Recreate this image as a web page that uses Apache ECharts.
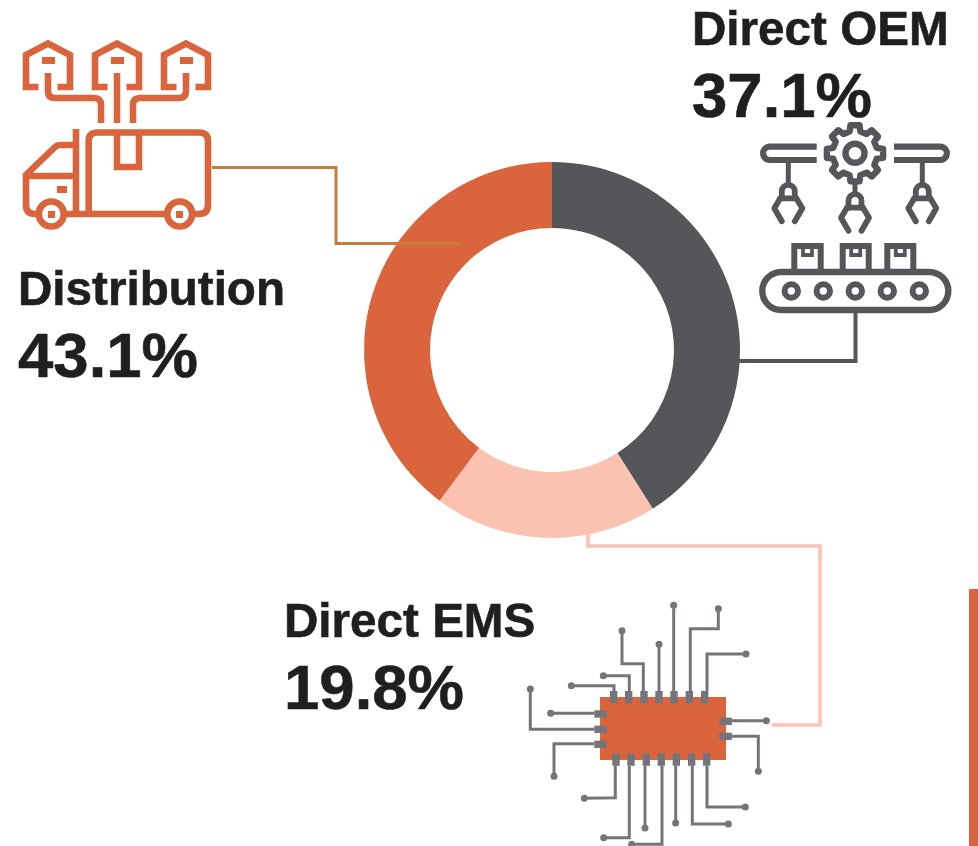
<!DOCTYPE html>
<html><head><meta charset="utf-8">
<style>html,body{margin:0;padding:0;background:#fff}#c{width:978px;height:846px}</style>
<script src="https://cdn.jsdelivr.net/npm/echarts@6/dist/echarts.min.js"></script>
</head><body><div id="c"></div>
<script>
// Segment names and the percentages printed on the chart
const categories = ['Direct OEM', 'Direct EMS', 'Distribution'];
const printedPercent = [37.1, 19.8, 43.1];
// Ring sweep as actually drawn in the picture (it differs from the printed labels)
const drawnShare = [41.0, 19.2, 39.8];
const colors = ['#54565a', '#fbc1b1', '#da643c'];

const ORANGE = '#da643c', DARK = '#54565a', GREY = '#74757a', PALE = '#fbc1b1', LINK = '#c97b3c', INK = '#1f1f1f';

function stroke(d, color, w, extra) {
  return {type: 'path', shape: {pathData: d}, silent: true,
    style: Object.assign({fill: 'none', stroke: color, lineWidth: w, lineJoin: 'miter', lineCap: 'butt'}, extra || {})};
}
function box(x, y, w, h, color) {
  return {type: 'rect', shape: {x, y, width: w, height: h}, silent: true, style: {fill: color}};
}
function ring(cx, cy, r, color, w) {
  return {type: 'circle', shape: {cx, cy, r}, silent: true, style: {fill: '#fff', stroke: color, lineWidth: w}};
}
function dot(cx, cy, r, color) {
  return {type: 'circle', shape: {cx, cy, r}, silent: true, style: {fill: color}};
}

function truckIcon() {
  const out = [], W = 6.6;
  [0, 69, 138].forEach(dx => {
    out.push(stroke(`M${38.5 + dx} 87 H${26 + dx} V55 L${48 + dx} 43.5 L${70 + dx} 55 V87 H${57.5 + dx}`, ORANGE, W));
    out.push(box(42 + dx, 57, 13, 7, ORANGE));
  });
  out.push(stroke('M48 73 V91 Q48 98 55 98 H94 Q101 98 101 105 V123', ORANGE, W));
  out.push(stroke('M117 73 V123', ORANGE, W));
  out.push(stroke('M186 73 V91 Q186 98 179 98 H140 Q133 98 133 105 V123', ORANGE, W));
  out.push(stroke('M88.7 214 V141 Q88.7 132.5 98 132.5 H199 Q208 132.5 208 141 V205 Q208 214 199 214 H190', ORANGE, W));
  out.push(stroke('M117 132 V167 H139 V132', ORANGE, W));
  out.push(stroke('M76 129 V214', ORANGE, W));
  out.push(stroke('M76 145 H60 Q57 145 55 147 L26 175 V205 Q26 214 35 214 H170', ORANGE, W));
  out.push(stroke('M26 176 H76', ORANGE, W));
  out.push(box(57, 186, 10, 7, ORANGE));
  out.push(ring(51.3, 214, 12.5, ORANGE, W));
  out.push(ring(179.7, 214, 12.5, ORANGE, W));
  out.push(box(48, 211, 7, 7, ORANGE));
  out.push(box(176, 211, 7, 7, ORANGE));
  return out;
}

function claw(cx, ty) {
  const o = {lineCap: 'round', lineJoin: 'round'};
  return [
    stroke(`M${cx - 6.5} ${ty + 15} V${ty + 8} A6.5 6.5 0 0 1 ${cx + 6.5} ${ty + 8} V${ty + 15}`, DARK, 5.8, o),
    stroke(`M${cx - 8} ${ty + 15} H${cx + 8}`, DARK, 5.8, o),
    stroke(`M${cx - 8} ${ty + 15} L${cx - 14} ${ty + 25} L${cx - 6.5} ${ty + 38}`, DARK, 5.8, o),
    stroke(`M${cx + 8} ${ty + 15} L${cx + 14} ${ty + 25} L${cx + 6.5} ${ty + 38}`, DARK, 5.8, o)
  ];
}
function gearPath(cx, cy) {
  let d = '';
  for (let k = 0; k < 8; k++) {
    const a = k * 45 - 90;
    [[-14, 22.5], [-9, 28.5], [9, 28.5], [14, 22.5]].forEach(([da, r], i) => {
      const t = (a + da) * Math.PI / 180;
      d += (k === 0 && i === 0 ? 'M' : 'L') + (cx + r * Math.cos(t)).toFixed(1) + ' ' + (cy + r * Math.sin(t)).toFixed(1) + ' ';
    });
  }
  return d + 'Z';
}
function robotIcon() {
  const out = [];
  out.push(stroke(gearPath(855, 153.3), DARK, 6.4, {lineJoin: 'round'}));
  out.push(ring(855, 153.3, 9.5, DARK, 6.4));
  out.push(stroke('M816.7 146.7 H769 A6.7 6.7 0 0 0 769 160 H816.7', DARK, 6.2));
  out.push(stroke('M894 146.7 H941 A6.7 6.7 0 0 1 941 160 H894', DARK, 6.2));
  out.push(stroke('M788.3 160 V185', DARK, 5));
  out.push(stroke('M922.3 160 V185', DARK, 5));
  out.push(stroke('M855 182 V194', DARK, 5));
  out.push(...claw(788.3, 183.3), ...claw(922.3, 183.3), ...claw(855, 192.7));
  [[794.3, 820.7], [842.7, 868.7], [887.3, 913.3]].forEach(([a, b]) => {
    out.push(stroke(`M${a} 272 V246 H${b} V272`, DARK, 6));
    const c = (a + b) / 2;
    out.push(stroke(`M${c - 4.5} 246 V255 H${c + 4.5} V246`, DARK, 3.8));
  });
  out.push({type: 'rect', shape: {x: 762.3, y: 272, width: 186, height: 38, r: 19}, silent: true,
    style: {fill: '#fff', stroke: DARK, lineWidth: 6.4}});
  [791.3, 823.3, 855.3, 887.3, 919.3].forEach(x => out.push(ring(x, 291, 6.7, DARK, 6)));
  return out;
}

function chipIcon() {
  const X = v => 510 + v / 3, Y = v => 590 + v / 3;
  const traces = [
    [[312,303],[312,287],[184,287]],
    [[358,303],[358,257],[280,257]],
    [[400,303],[400,221],[336,221],[336,122]],
    [[447,303],[447,163]],
    [[491,303],[491,46]],
    [[541,303],[541,116],[625,116],[625,56]],
    [[591,303],[591,192],[708,192]],
    [[253,370],[122,370]],
    [[253,418],[61,418],[61,297]],
    [[253,461],[132,461],[132,559]],
    [[666,392],[769,392]],
    [[666,439],[745,439],[745,544]],
    [[316,527],[316,623],[223,625]],
    [[358,527],[358,743],[281,743]],
    [[405,527],[405,714]],
    [[456,527],[456,763],[365,763]],
    [[497,527],[497,699]],
    [[547,527],[547,702],[655,702]],
    [[591,527],[591,651],[706,651]]
  ];
  const out = [];
  traces.forEach(t => {
    out.push(stroke(t.map((p, i) => (i ? 'L' : 'M') + X(p[0]).toFixed(1) + ' ' + Y(p[1]).toFixed(1)).join(' '), GREY, 3));
    const e = t[t.length - 1];
    out.push(dot(X(e[0]), Y(e[1]), 3.5, GREY));
  });
  out.push(box(600, 697, 126, 63, ORANGE));
  [311, 356, 402, 447, 492, 538, 584].forEach(x => out.push(box(X(x) - 3.7, 691, 7.4, 12.5, GREY)));
  [318, 363, 409, 454, 499, 545, 590].forEach(x => out.push(box(X(x) - 3.7, 753.3, 7.4, 12.5, GREY)));
  [372, 418, 463].forEach(y => out.push(box(594.3, Y(y) - 3.7, 12.6, 7.4, GREY)));
  [394, 439].forEach(y => out.push(box(719.3, Y(y) - 3.7, 12.6, 7.4, GREY)));
  return out;
}

function connectors() {
  return [
    stroke('M212 167.5 H336 V243.5 H461', LINK, 3),
    stroke('M739 361 H855.5 V311', DARK, 4),
    stroke('M588 533 V546 H820 V725 H772', PALE, 3.5)
  ];
}

const NAME_SIZE = 47.6, PCT_SIZE = 63.5, MID = 0.8465;
const textFor = [
  {x: 692, base: 48, pbase: 121.5},
  {x: 284, base: 640, pbase: 713.5},
  {x: 18, base: 308, pbase: 381}
];
function label(text, x, y, size) {
  return {type: 'text', x, y, z: 20, silent: true,
    style: {text, fill: INK, stroke: INK, lineWidth: 0.6, fontFamily: 'Liberation Sans', fontWeight: 'bold', fontSize: size, verticalAlign: 'top'}};
}
const textEls = [];
categories.forEach((name, i) => {
  const p = textFor[i];
  textEls.push(label(name, p.x, p.base - NAME_SIZE * MID, NAME_SIZE));
  textEls.push(label(printedPercent[i] + '%', p.x, p.pbase - PCT_SIZE * MID, PCT_SIZE));
});
textEls.push({type: 'rect', shape: {x: 969, y: 589, width: 9, height: 257}, style: {fill: ORANGE}, silent: true, z: 20});

const chart = echarts.init(document.getElementById('c'), null, {renderer: 'canvas'});
chart.setOption({
  animation: false,
  backgroundColor: '#fff',
  graphic: {elements: textEls},
  series: [
    {type: 'pie', center: [552, 350], radius: [122, 188], startAngle: 90, clockwise: true,
      silent: true, label: {show: false}, labelLine: {show: false},
      data: categories.map((name, i) => ({name, value: drawnShare[i], itemStyle: {color: colors[i]}}))},
    {type: 'custom', coordinateSystem: 'none', z: 6, silent: true, data: [0],
      renderItem: () => ({type: 'group', children: [...connectors(), ...truckIcon(), ...robotIcon(), ...chipIcon()]})}
  ]
});
</script></body></html>
